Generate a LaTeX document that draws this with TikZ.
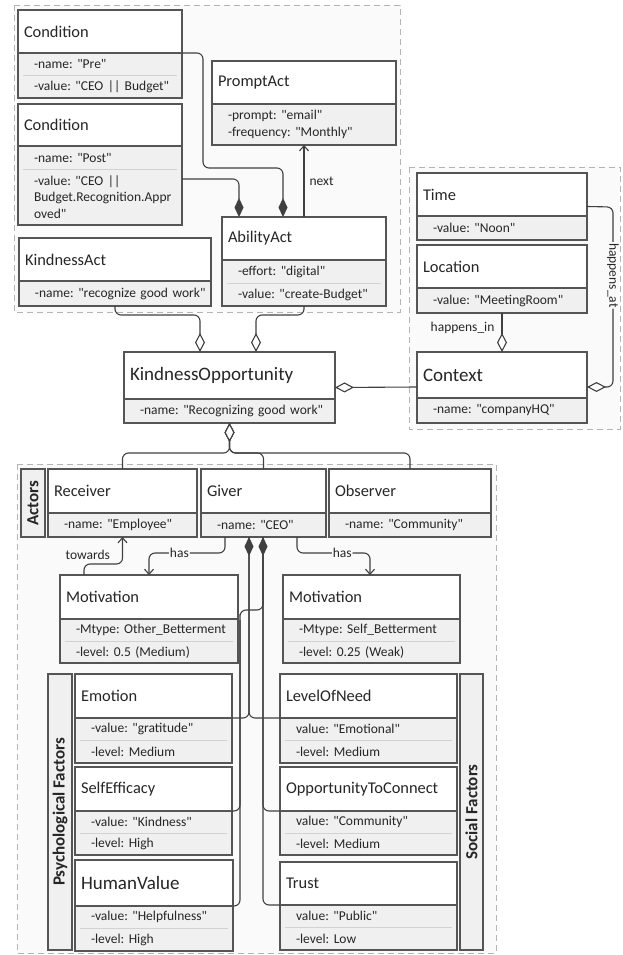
\documentclass[tikz,border=0pt]{standalone}
\usepackage{fontspec}
\setmainfont{Carlito}[Ligatures=TeXOff]
\frenchspacing
\usepackage{tikz}
\usetikzlibrary{positioning, arrows.meta}
\definecolor{boxline}{HTML}{555555}
\definecolor{attrfill}{HTML}{F0F0F0}
\definecolor{regionfill}{HTML}{FAFAFA}
\definecolor{regionline}{HTML}{B4B4B4}
\definecolor{sepline}{HTML}{D2D2D2}
\definecolor{linkline}{HTML}{404040}
\definecolor{ink}{HTML}{262626}
\newcommand{\titlefont}{\fontsize{16.4}{19.5}\selectfont}
\newcommand{\bigtitlefont}{\fontsize{19}{22}\selectfont}
\newcommand{\attrfont}{\fontsize{13.5}{16.3}\selectfont}
\newcommand{\labfont}{\fontsize{13.5}{16}\selectfont}
\newcommand{\sidefont}{\fontsize{17}{20}\bfseries\selectfont}
\tikzset{
  region/.style  = {fill=regionfill, draw=regionline, line width=0.8pt,
                    dash pattern=on 6pt off 4pt},
  cls/.style     = {rectangle, fill=white, anchor=north west, inner xsep=6pt,
                    inner ysep=0pt, outer sep=0pt, text width=#1-12,
                    minimum height=43pt, align=left, text=ink, font=\titlefont},
  row/.style     = {rectangle, fill=attrfill, inner xsep=0pt, inner ysep=1pt,
                    outer sep=0pt, text width=#1, minimum height=22.5pt,
                    align=left, text=ink, font=\attrfont,
                    execute at begin node={\leftskip=16pt}},
  clsframe/.style= {draw=boxline, line width=1.1pt},
  sep/.style     = {draw=sepline, line width=0.6pt},
  sidebox/.style = {rectangle, draw=boxline, line width=1.1pt, fill=attrfill,
                    rotate=90, inner sep=0pt, text=ink, font=\sidefont},
  link/.style    = {draw=linkline, line width=1.1pt, rounded corners=6pt},
  agg/.style     = {link, {Diamond[open, fill=white, length=19pt, width=10pt]}-},
  comp/.style    = {link, {Diamond[length=19pt, width=9pt]}-},
  dep/.style     = {link, -{Straight Barb[length=5pt, width=9pt]}},
  lab/.style     = {fill=regionfill, inner sep=1pt, text=ink, font=\labfont},
}

\begin{document}
\begin{tikzpicture}[x=1pt, y=-1pt]
  \useasboundingbox (0,0) rectangle (622,955);

  % ----- dashed groups -----
  \filldraw[region] (14,5) rectangle (400,312);
  \filldraw[region] (409,167) rectangle (620,429);
  \filldraw[region] (17,464) rectangle (496,953);

  % ----- acts and conditions -----
  \node[cls=164] (pre) at (18,10) {Condition};
  \node[row=164, below=0pt of pre] (pren) {-name: "Pre"};
  \node[row=164, below=0pt of pren] (prev) {-value: "CEO || Budget"};

  \node[cls=164, minimum height=42pt, below=6pt of prev] (post) {Condition};
  \node[row=164, minimum height=23pt, below=0pt of post] (postn) {-name: "Post"};
  \node[row=164, minimum height=56pt, below=0pt of postn] (postv)
       {-value: "CEO ||\\Budget.Recognition.Appr\\oved"};

  \node[cls=184] (prompt) at (212,61) {PromptAct};
  \node[row=184, minimum height=41pt, below=0pt of prompt] (prompta)
       {-prompt: "email"\\-frequency: "Monthly"};

  \node[cls=164] (abil) at (222,217) {AbilityAct};
  \node[row=164, minimum height=23pt, below=0pt of abil] (abile) {-effort: "digital"};
  \node[row=164, minimum height=23pt, below=0pt of abile] (abilv) {-value: "create-Budget"};

  \node[cls=192] (kact) at (19,238) {KindnessAct};
  \node[row=192, minimum height=25pt, below=0pt of kact] (kactn) {\mbox{-name: "recognize good work"}};

  \node[cls=211, minimum height=47pt, font=\bigtitlefont] (kopp) at (124,352) {KindnessOpportunity};
  \node[row=211, minimum height=24pt, below=0pt of kopp] (koppn) {-name: "Recognizing good work"};

  % ----- context -----
  \node[cls=170] (time) at (417,173) {Time};
  \node[row=170, minimum height=24pt, below=0pt of time] (timev) {-value: "Noon"};

  \node[cls=170, below=5pt of timev] (loc) {Location};
  \node[row=170, minimum height=25pt, below=0pt of loc] (locv) {-value: "MeetingRoom"};

  \node[cls=170, minimum height=46pt, font=\bigtitlefont] (ctx) at (417,352) {Context};
  \node[row=170, minimum height=25pt, below=0pt of ctx] (ctxn) {-name: "companyHQ"};

  % ----- actors -----
  \node[sidebox, minimum width=68pt, minimum height=24pt] (actlab) at (33,503) {Actors};

  \node[cls=149, minimum height=44pt] (recv) at (48,469) {Receiver};
  \node[row=149, minimum height=24pt, below=0pt of recv] (recvn) {-name: "Employee"};

  \node[cls=125, minimum height=44pt] (giver) at (201,469) {Giver};
  \node[row=125, minimum height=24pt, below=0pt of giver] (givern) {-name: "CEO"};

  \node[cls=162, minimum height=44pt] (obs) at (329,469) {Observer};
  \node[row=162, minimum height=24pt, below=0pt of obs] (obsn) {-name: "Community"};

  \node[cls=178, minimum height=44pt] (moto) at (60,575) {Motivation};
  \node[row=178, minimum height=22pt, below=0pt of moto] (motot) {-Mtype: Other\_Betterment};
  \node[row=178, minimum height=22pt, below=0pt of motot] (motol) {-level: 0.5 (Medium)};

  \node[cls=177, minimum height=44pt] (mots) at (283,575) {Motivation};
  \node[row=177, minimum height=22pt, below=0pt of mots] (motst) {-Mtype: Self\_Betterment};
  \node[row=177, minimum height=22pt, below=0pt of motst] (motsl) {-level: 0.25 (Weak)};

  % ----- psychological factors -----
  \node[sidebox, minimum width=276pt, minimum height=24pt] (psylab) at (60,812) {Psychological Factors};

  \node[cls=157, minimum height=44pt] (emo) at (75,674) {Emotion};
  \node[row=157, below=0pt of emo] (emov) {-value: "gratitude"};
  \node[row=157, below=0pt of emov] (emol) {-level: Medium};

  \node[cls=157, minimum height=44pt, below=4pt of emol] (seff) {SelfEfficacy};
  \node[row=157, minimum height=22pt, below=0pt of seff] (seffv) {-value: "Kindness"};
  \node[row=157, minimum height=22pt, below=0pt of seffv] (seffl) {-level: High};

  \node[cls=158, minimum height=46pt, font=\bigtitlefont] (hval) at (75,860) {HumanValue};
  \node[row=158, below=0pt of hval] (hvalv) {-value: "Helpfulness"};
  \node[row=158, below=0pt of hvalv] (hvall) {-level: High};

  % ----- social factors -----
  \node[sidebox, minimum width=276pt, minimum height=23pt] (soclab) at (471.5,812) {Social Factors};

  \node[cls=177, minimum height=44pt] (need) at (280,674) {LevelOfNeed};
  \node[row=177, below=0pt of need] (needv) {value: "Emotional"};
  \node[row=177, below=0pt of needv] (needl) {-level: Medium};

  \node[cls=177, minimum height=44pt, below=4pt of needl] (connect) {OpportunityToConnect};
  \node[row=177, minimum height=22pt, below=0pt of connect] (connectv) {value: "Community"};
  \node[row=177, minimum height=22pt, below=0pt of connectv] (connectl) {-level: Medium};

  \node[cls=177, below=7pt of connectl] (trust) {Trust};
  \node[row=177, below=0pt of trust] (trustv) {value: "Public"};
  \node[row=177, below=0pt of trustv] (trustl) {-level: Low};

  % class outlines and row separators
  \foreach \t/\r in {pre/prev, post/postv, prompt/prompta, abil/abilv, kact/kactn,
                     kopp/koppn, time/timev, loc/locv, ctx/ctxn, recv/recvn,
                     giver/givern, obs/obsn, moto/motol, mots/motsl, emo/emol,
                     seff/seffl, hval/hvall, need/needl, connect/connectl, trust/trustl}
    \draw[clsframe] (\t.north west) rectangle (\r.south east) (\t.south west) -- (\t.south east);
  \foreach \r in {pren, postn, abile, motot, motst, emov, seffv, hvalv, needv, connectv, trustv}
    \draw[sep] ([xshift=5pt]\r.south west) -- ([xshift=-5pt]\r.south east);

  % ----- connectors: acts -----
  \draw[comp] ([xshift=61pt]abil.north west) |- ++(-80,-49) |- (pre.south east);
  \draw[comp] ([xshift=17pt]abil.north west) |- ([yshift=-10pt]postv.north east);
  \draw[dep] (abil.north -| prompta.south) -- node[lab, right, xshift=4pt] {next} (prompta.south);
  \draw[agg] ([xshift=76pt]kopp.north west) |- ([yshift=-9pt]kactn.south) -- (kactn.south);
  \draw[agg] ([xshift=132pt]kopp.north west) |- ([yshift=-9pt]abilv.south) -- (abilv.south);

  % ----- connectors: context -----
  \draw[agg] ([yshift=-12pt]kopp.east) -- ([yshift=-12pt]ctx.west);
  \draw[agg] (ctx.north) -- node[lab, left, pos=0.62, xshift=-6pt] {happens\_in} (locv.south);
  \draw[agg] ([yshift=-12pt]ctx.east) -- ++(26,0)
        -- node[lab, rotate=-90, pos=0.62] {happens\_at} ++(0,-180)
        -- ([yshift=-12pt]time.east);

  % ----- connectors: actors -----
  \foreach \t in {recv, giver, obs}
    \draw[agg] (koppn.south) -- ++(0,30) -| (\t.north);
  \draw[dep] ([xshift=24pt]givern.south west) -- ++(0,16)
        -| node[lab, pos=0.3] {has} ([xshift=89pt]moto.north west);
  \draw[dep] ([xshift=96pt]givern.south west) -- ++(0,16)
        -| node[lab, pos=0.31] {has} ([xshift=87pt]mots.north west);
  \draw[dep] ([xshift=24pt]moto.north west) -- ++(0,-11)
        -| node[lab, pos=0.05, above, yshift=3pt] {towards} (recvn.south);

  % ----- connectors: factors -----
  \draw[comp] ([xshift=48pt]givern.south west) |- (need.south west);
  \draw[link] ([xshift=48pt]givern.south west) |- (emo.south east);
  \draw[comp] ([xshift=62pt]givern.south west) |- (trust.south west);
  \draw[link] ([xshift=62pt]givern.south west) |- (connect.south west);
  \draw[link] ([xshift=62pt]givern.south west) -- ++(0,73) -| ++(-23,10) coordinate (jog)
        |- (hval.south east);
  \draw[link] (jog) |- (seff.south east);

\end{tikzpicture}
\end{document}
